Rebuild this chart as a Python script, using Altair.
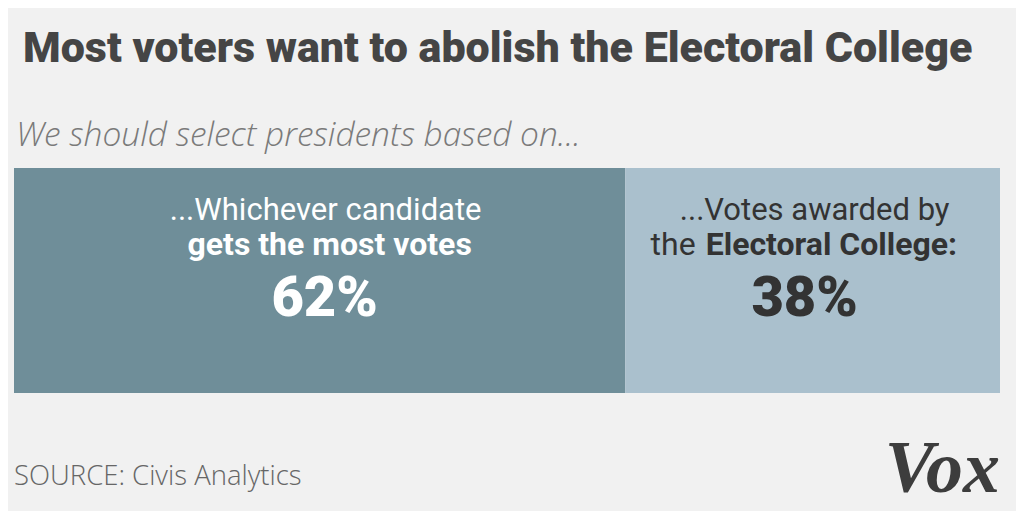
import altair as alt
import pandas as pd

# Data
categories = ["Whichever candidate gets the most votes", "Votes awarded by the Electoral College"]
shares = [62, 38]
colors = ["#6f8e99", "#aac0cd"]

title_text = "Most voters want to abolish the Electoral College"
subtitle_text = "We should select presidents based on..."
source_text = "SOURCE: Civis Analytics"
logo_text = "Vox"

left_line1 = "...Whichever candidate"
left_line2 = "gets the most votes"
right_line1 = "...Votes awarded by"
right_line2a = "the"
right_line2b = "Electoral College:"

starts = [0, shares[0]]
ends = [shares[0], shares[0] + shares[1]]
mids = [(s + e) / 2 for s, e in zip(starts, ends)]

bars = pd.DataFrame({"cat": categories, "start": starts, "end": ends, "mid": mids,
                     "pct": [f"{v}%" for v in shares]})

W, H = 1008, 503
xscale = alt.Scale(domain=[0, 100], range=[6, 992])
BODY = "Roboto"
LIGHT = "Open Sans"

base = alt.Chart(bars)

bar = base.mark_rect().encode(
    x=alt.X("start:Q", scale=xscale, axis=None),
    x2="end:Q",
    y=alt.value(160),
    y2=alt.value(385),
    color=alt.Color("cat:N", scale=alt.Scale(domain=categories, range=colors), legend=None),
)

def seg_text(idx, text, baseline_y, size, weight, color, dx=0, align="center"):
    d = pd.DataFrame({"mid": [mids[idx]], "t": [text]})
    return alt.Chart(d).mark_text(
        font=BODY, fontSize=size, fontWeight=weight, color=color,
        align=align, baseline="alphabetic", dx=dx,
    ).encode(x=alt.X("mid:Q", scale=xscale, axis=None), y=alt.value(baseline_y), text="t:N")

DARK = "#333333"
l1 = seg_text(0, left_line1, 212, 31, 400, "white", dx=6)
l2 = seg_text(0, left_line2, 247, 32, 700, "white", dx=10)
l3 = seg_text(0, bars["pct"][0], 308, 56, 900, "white", dx=5)

r1 = seg_text(1, right_line1, 212, 31, 400, DARK, dx=2)
r2a = seg_text(1, right_line2a, 247, 32, 400, DARK, dx=-117, align="right")
r2b = seg_text(1, right_line2b, 247, 32, 700, DARK, dx=-107, align="left")
r3 = seg_text(1, bars["pct"][1], 308, 56, 900, DARK, dx=-8)

def free_text(text, x, y, **kw):
    d = pd.DataFrame({"t": [text]})
    return alt.Chart(d).mark_text(baseline="alphabetic", **kw).encode(
        x=alt.value(x), y=alt.value(y), text="t:N")

title = free_text(title_text, 15, 54, font=BODY, fontSize=43, fontWeight=900,
                  color="#454545", align="left")
subtitle = free_text(subtitle_text, 8, 138, font=LIGHT, fontSize=33.5, fontWeight=300,
                     fontStyle="italic", color="#7a7a7a", align="left")
source = free_text(source_text, 6, 477, font=LIGHT, fontSize=27.5, fontWeight=300,
                   color="#666666", align="left")
logo = free_text(logo_text, 992, 484, font="Liberation Serif", fontSize=74, fontWeight="bold",
                 fontStyle="italic", color="#3d3d3d", align="right")

chart = alt.layer(bar, l1, l2, l3, r1, r2a, r2b, r3, title, subtitle, source, logo).properties(
    width=W, height=H, autosize=alt.AutoSizeParams(type="none"), padding=0,
    background="#f1f1f1",
).configure_view(stroke=None)

chart.save("out.html", embed_options={"renderer": "svg", "actions": False})
